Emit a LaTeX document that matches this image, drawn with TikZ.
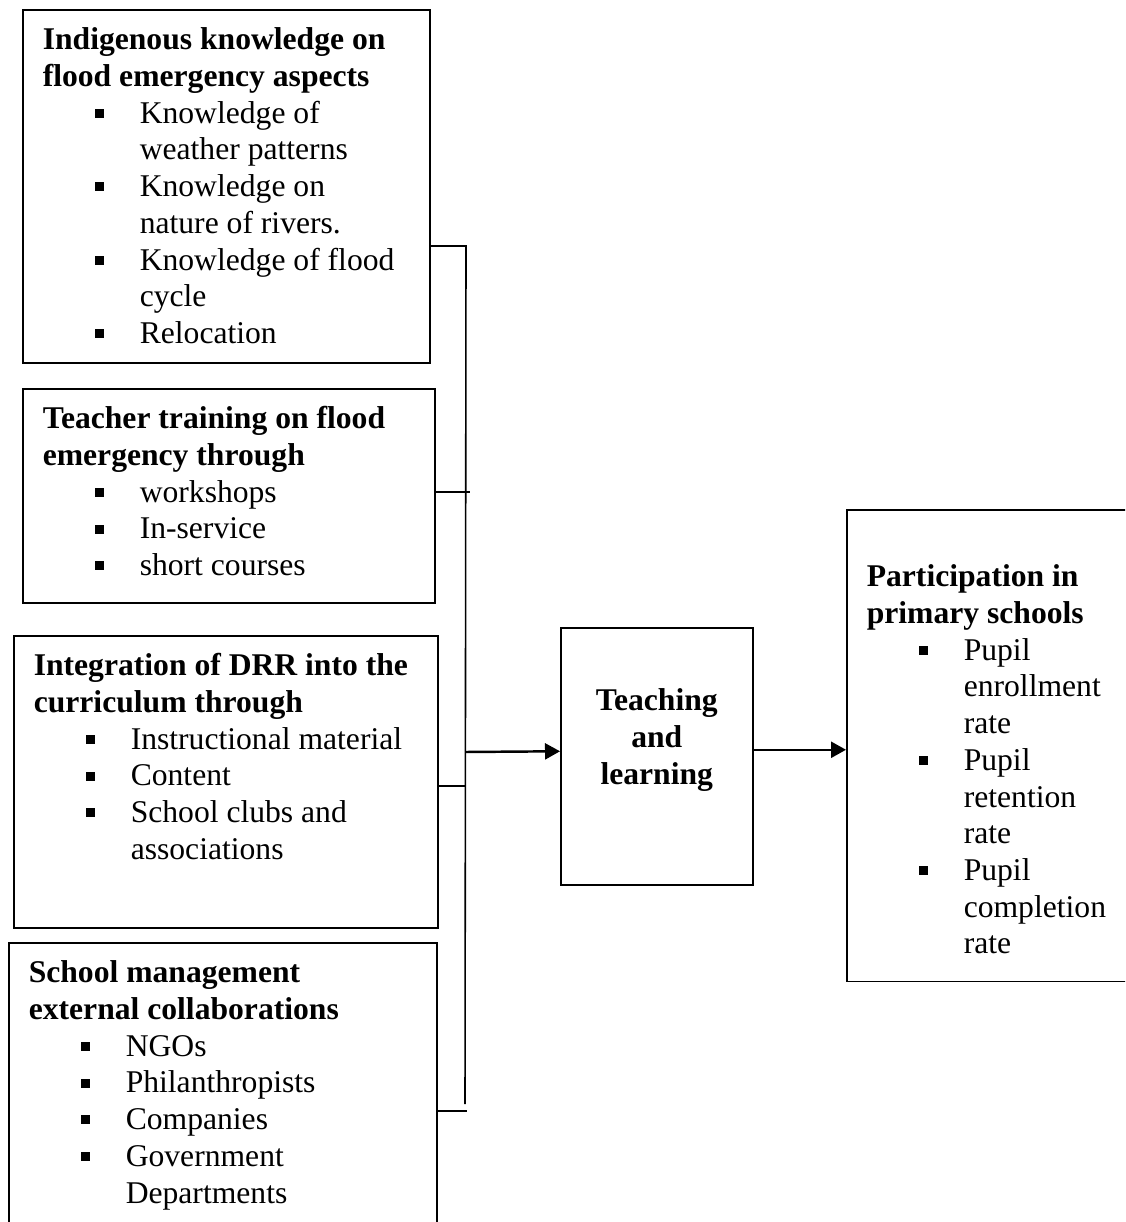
\documentclass[tikz,border=0pt]{standalone}
\usepackage{fontspec}
\setmainfont{Liberation Serif}
\usepackage{tikz}
\usetikzlibrary{arrows.meta}
\setlength{\parindent}{0pt}

\newcommand{\sqbul}{\rule[3pt]{5.2pt}{5.2pt}}
\newcommand{\hd}[2]{\textbf{\mbox{#1}\\\mbox{#2}}}
\newcommand{\bitem}[1]{\par{\leftskip=1.94cm\noindent\llap{\sqbul\hspace{0.72cm}}#1\par}}

\begin{document}
\begin{tikzpicture}[
x=0.02cm, y=-0.02cm,
font=\fontsize{18}{20.9}\selectfont,
box/.style={
	rectangle,
	draw,
	line width=0.9pt,
	anchor=north west,
	align=flush left,
	inner xsep=0.4cm,
	inner ysep=0pt,
	text height=0.8cm
},
conn/.style={line width=0.9pt},
arrow/.style={-{Triangle[length=0.3cm,width=0.32cm]}, line width=1.4pt}
]
\useasboundingbox (0,0) rectangle (1125,1222);
\clip (0,0) rectangle (1125,1222);

\node[box, text width=7.34cm, text depth=6.26cm] (ik) at (22,9) {
	\hd{Indigenous knowledge on}{flood emergency aspects}
	\bitem{Knowledge of\\weather patterns}
	\bitem{Knowledge on\\nature of rivers.}
	\bitem{Knowledge of flood\\cycle}
	\bitem{Relocation}
};

\node[box, text width=7.44cm, text depth=3.48cm] (tt) at (22,388) {
	\hd{Teacher training on flood}{emergency through}
	\bitem{workshops}
	\bitem{In-service}
	\bitem{short courses}
};

\node[box, text width=7.68cm, text depth=5.04cm] (drr) at (13,635) {
	\hd{Integration of DRR into the}{curriculum through}
	\bitem{Instructional material}
	\bitem{Content}
	\bitem{School clubs and\\associations}
};

\node[box, text width=7.76cm, text depth=5.2cm] (sm) at (8,942) {
	\hd{School management}{external collaborations}
	\bitem{NGOs}
	\bitem{Philanthropists}
	\bitem{Companies}
	\bitem{Government\\Departments}
};

\node[box, align=flush center, inner xsep=0pt, text width=3.84cm,
	text height=1.66cm, text depth=3.48cm] (tl) at (560,627) {
	\textbf{Teaching\\and\\learning}
};

\node[box, text width=5.2cm, text height=1.54cm, text depth=7.9cm] (ps) at (846,509) {
	\hd{Participation in}{primary schools}
	\bitem{Pupil\\enrollment\\rate}
	\bitem{Pupil\\retention\\rate}
	\bitem{Pupil\\completion\\rate}
};

\coordinate (bustop) at (466,246);
\coordinate (busbot) at (465,1104);
\coordinate (j2) at (470,492);
\coordinate (j3) at (465,786);
\coordinate (j4) at (467,1111);
\coordinate (jin) at (465,752);

\draw[conn] (ik.east |- bustop) -- (bustop) -- (busbot);
\draw[conn] (tt.east |- j2) -- (j2);
\draw[conn] (drr.east |- j3) -- (j3);
\draw[conn] (sm.east |- j4) -- (j4);

\draw[arrow] (jin) -- ([yshift=0.1cm]tl.west);
\draw[arrow] ([yshift=0.13cm]tl.east) -- ([yshift=0.13cm]tl.east -| ps.west);

\end{tikzpicture}
\end{document}
